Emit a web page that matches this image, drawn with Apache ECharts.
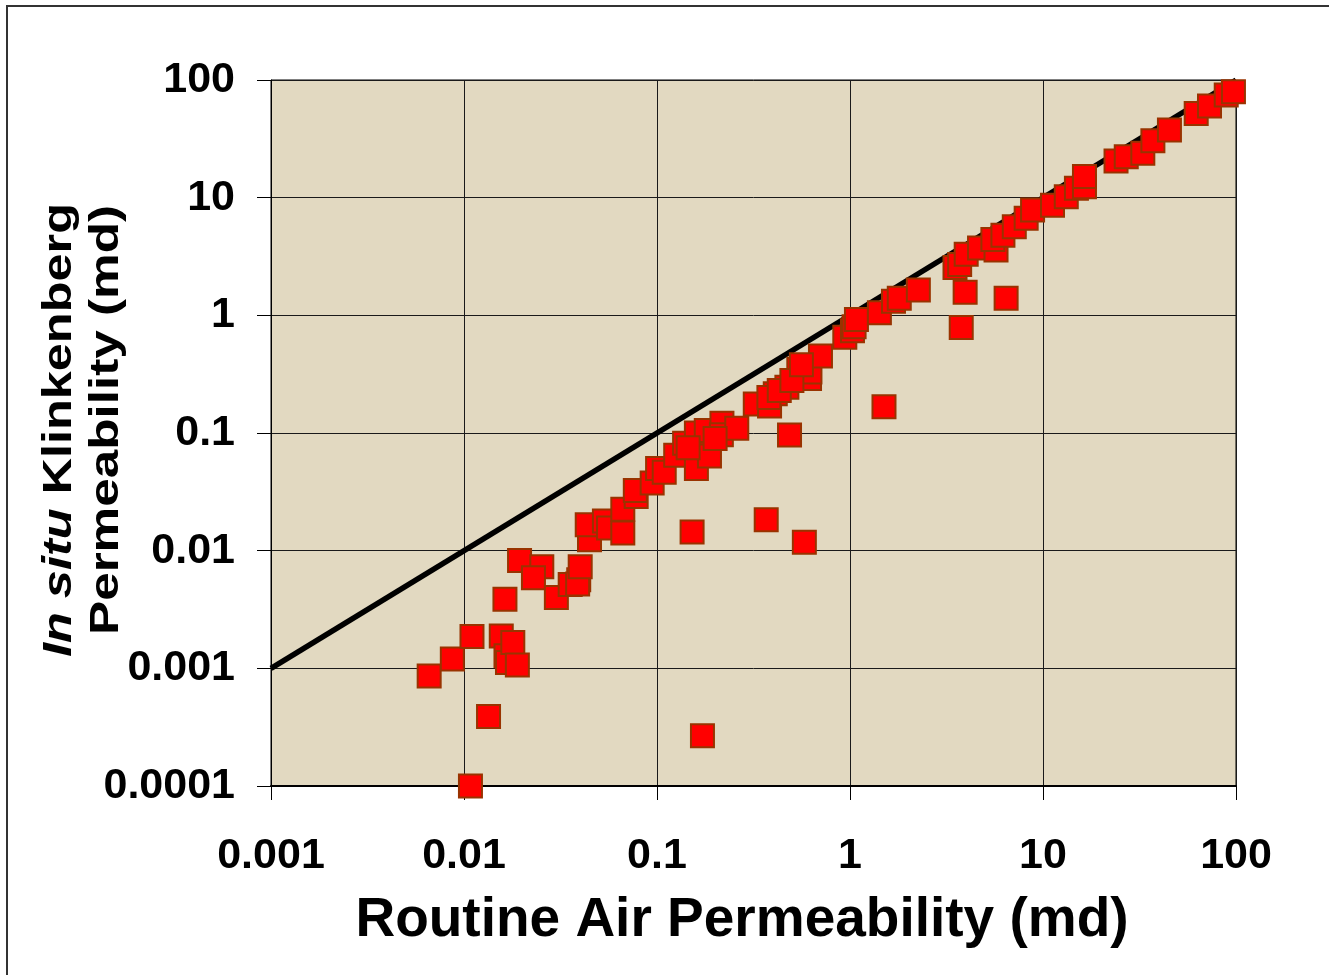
<!DOCTYPE html>
<html>
<head>
<meta charset="utf-8">
<title>Routine vs In situ Klinkenberg Permeability</title>
<script src="https://cdn.jsdelivr.net/npm/echarts@6/dist/echarts.min.js"></script>
<style>
  html, body { margin: 0; padding: 0; background: #ffffff; }
  #chart { width: 1329px; height: 975px; }
</style>
</head>
<body>
<div id="chart"></div>
<script>
// Routine air permeability (md) of each sample
const airPerm = [
  0.0066, 0.0087, 0.0110, 0.0134, 0.0108, 0.0156, 0.0165, 0.0168, 0.0179, 0.0189,
  0.0163, 0.0194, 0.0253, 0.0229, 0.0301, 0.0355, 0.0393, 0.0388, 0.0400, 0.0447,
  0.0435, 0.0534, 0.0561, 0.0665, 0.0665, 0.0780, 0.0772, 0.0944, 0.1007, 0.109,
  0.125, 0.139, 0.160, 0.160, 0.187, 0.180, 0.217, 0.2155, 0.259, 0.323,
  0.383, 0.41, 0.471, 0.543, 0.617, 0.62, 0.703, 0.94, 1.03, 1.05,
  1.08, 0.152, 0.368, 0.58, 0.486, 0.172, 1.5, 3.77, 3.95, 6.44,
  1.42, 1.68, 1.8, 2.26, 3.5, 3.7, 4.0, 4.69, 5.71, 5.5,
  6.2, 7.1, 8.18, 8.83, 11.2, 13.2, 14.9, 16.4, 16.4, 23.9,
  27, 32.9, 37.1, 45.2, 62.2, 72.9, 89, 97,
  0.38, 0.43, 0.50, 0.56, 0.145, 0.20
];
// In situ Klinkenberg permeability (md) of the same samples
const klinkPerm = [
  0.00086, 0.00120, 0.00186, 0.00039, 0.0001, 0.00188, 0.00128, 0.00112, 0.00166, 0.00107,
  0.00387, 0.00824, 0.00730, 0.00590, 0.00400, 0.00516, 0.00565, 0.00520, 0.00730, 0.0124,
  0.0166, 0.0179, 0.0156, 0.0141, 0.0225, 0.0288, 0.0324, 0.0375, 0.0499, 0.0464,
  0.0648, 0.0819, 0.0499, 0.0999, 0.0639, 0.105, 0.121, 0.0964, 0.110, 0.176,
  0.170, 0.216, 0.245, 0.348, 0.29, 0.33, 0.452, 0.652, 0.74, 0.8,
  0.92, 0.0144, 0.0183, 0.0118, 0.0963, 0.000267, 0.167, 0.79, 1.57, 1.40,
  1.05, 1.32, 1.4, 1.64, 2.55, 2.7, 3.3, 3.74, 3.6, 4.4,
  4.8, 5.67, 6.68, 7.86, 8.6, 10.2, 12.0, 12.4, 15.1, 20.5,
  22.3, 23.8, 30.4, 37.6, 52, 60, 74.6, 79.6,
  0.20, 0.23, 0.28, 0.38, 0.075, 0.09
];
// 1:1 reference line end points
const unityLineX = [0.001, 100];
const unityLineY = [0.001, 100];

const xTickLabels = ['0.001', '0.01', '0.1', '1', '10', '100'];
const yTickLabels = ['0.0001', '0.001', '0.01', '0.1', '1', '10', '100'];

const FONT = '"Liberation Sans", Arial, Helvetica, sans-serif';

const points = airPerm.map((x, i) => [x, klinkPerm[i]]);
const unityLine = unityLineX.map((x, i) => [x, unityLineY[i]]);

const chart = echarts.init(document.getElementById('chart'), null, { renderer: 'canvas' });

chart.setOption({
  animation: false,
  backgroundColor: '#ffffff',
  grid: {
    left: 271, top: 80, width: 965, height: 706,
    show: true,
    backgroundColor: '#E2D9C1',
    borderColor: '#000000',
    borderWidth: 1
  },
  xAxis: {
    type: 'log', logBase: 10, min: 0.001, max: 100,
    axisLine: { show: true, lineStyle: { color: '#000000', width: 2 } },
    axisTick: { show: true, inside: false, length: 14, lineStyle: { color: '#000000', width: 1 } },
    minorTick: { show: false },
    splitLine: { show: true, lineStyle: { color: '#1a1a1a', width: 1 } },
    axisLabel: {
      margin: 49,
      color: '#000000', fontFamily: FONT, fontWeight: 'bold', fontSize: 43,
      formatter: v => xTickLabels[Math.round(Math.log10(v)) + 3]
    }
  },
  yAxis: {
    type: 'log', logBase: 10, min: 0.0001, max: 100,
    axisLine: { show: true, lineStyle: { color: '#000000', width: 1 } },
    axisTick: { show: true, inside: false, length: 14, lineStyle: { color: '#000000', width: 1 } },
    minorTick: { show: false },
    splitLine: { show: true, lineStyle: { color: '#1a1a1a', width: 1 } },
    axisLabel: {
      margin: 36,
      color: '#000000', fontFamily: FONT, fontWeight: 'bold', fontSize: 43,
      formatter: v => yTickLabels[Math.round(Math.log10(v)) + 4]
    }
  },
  series: [
    {
      type: 'line',
      data: unityLine,
      symbol: 'none',
      clip: false,
      lineStyle: { color: '#000000', width: 5.5 },
      z: 2
    },
    {
      type: 'scatter',
      data: points,
      symbol: 'rect',
      symbolSize: 23,
      clip: false,
      itemStyle: { color: '#FF0000', borderColor: '#993300', borderWidth: 2, opacity: 1 },
      z: 3
    }
  ],
  graphic: [
    {
      type: 'polyline',
      shape: { points: [[7, 1000], [7, 6], [1340, 6]] },
      style: { stroke: '#333333', lineWidth: 2, fill: null },
      silent: true
    },
    {
      type: 'text',
      x: 742, y: 921,
      style: {
        text: 'Routine Air Permeability (md)',
        fill: '#000000',
        font: 'bold 55px ' + FONT,
        align: 'center', verticalAlign: 'middle'
      }
    },
    {
      type: 'text',
      x: 60, y: 430,
      rotation: Math.PI / 2,
      scaleX: 1.23,
      style: {
        text: '{i|In situ} Klinkenberg',
        fill: '#000000',
        font: 'bold 41px ' + FONT,
        align: 'center', verticalAlign: 'middle',
        rich: {
          i: { fontStyle: 'italic', fontWeight: 'bold', fontSize: 41, fontFamily: FONT, fill: '#000000' }
        }
      }
    },
    {
      type: 'text',
      x: 107, y: 420,
      rotation: Math.PI / 2,
      scaleX: 1.25,
      style: {
        text: 'Permeability (md)',
        fill: '#000000',
        font: 'bold 41px ' + FONT,
        align: 'center', verticalAlign: 'middle'
      }
    }
  ]
});
</script>
</body>
</html>
